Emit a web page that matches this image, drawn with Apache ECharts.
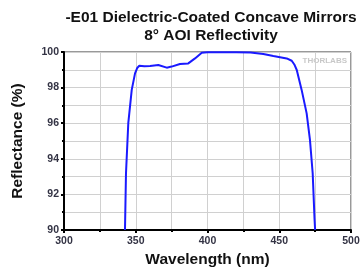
<!DOCTYPE html>
<html><head><meta charset="utf-8">
<script src="https://cdn.jsdelivr.net/npm/echarts@6/dist/echarts.min.js"></script>
<style>html,body{margin:0;padding:0;background:#fff}#c{width:361px;height:270px}</style>
</head><body><div id="c"></div>
<script>
var wavelength = [342.5,343.2,344.8,347.2,349.5,351,352.5,356,360,365.7,371.6,375,380.8,386.6,391.3,396,400,410,420,430,438.9,445.9,455.2,458.7,460.5,462.2,465.6,469.1,471.4,473.3,474.6,475];
var reflectance = [90,93.19,96.0,97.87,98.8,99.1,99.23,99.2,99.21,99.27,99.12,99.18,99.33,99.36,99.64,99.96,99.98,99.99,99.98,99.97,99.89,99.78,99.64,99.51,99.3,98.99,97.87,96.55,95.06,93.19,90.6,90];
var titleLines = ['-E01 Dielectric-Coated Concave Mirrors','8° AOI Reflectivity'];
var xTicks = [300,350,400,450,500];
var yTicks = [90,92,94,96,98,100];

var data = wavelength.map(function(w,i){return [w,reflectance[i]];});
var chart = echarts.init(document.getElementById('c'));
var lbl = {color:'#333344',fontFamily:'Liberation Sans, Arial',fontWeight:'bold',fontSize:10.5};
chart.setOption({
  animation:false,
  title:{text:titleLines.join('\n'),left:206,textAlign:'center',top:4,
    textStyle:{fontFamily:'Liberation Sans, Arial',fontWeight:'bold',fontSize:15.5,lineHeight:18,color:'#111'}},
  grid:{left:64,right:10,top:52,bottom:40,show:true,borderColor:'#333',borderWidth:1,containLabel:false,outerBoundsMode:'none'},
  graphic:[{type:'text',right:14,top:57,style:{text:'THORLABS',fill:'#c8c8c8',font:'bold 8px Liberation Sans'}}],
  xAxis:{type:'value',min:xTicks[0],max:xTicks[xTicks.length-1],interval:50,
    name:'Wavelength (nm)',nameLocation:'middle',nameGap:22,
    nameTextStyle:{fontFamily:'Liberation Sans, Arial',fontWeight:'bold',fontSize:15.5,color:'#111'},
    axisLine:{show:true,lineStyle:{color:'#000',width:2}},
    axisTick:{show:true,length:3,lineStyle:{color:'#000',width:2}},
    minorTick:{show:true,splitNumber:2,length:2,lineStyle:{color:'#000',width:2}},
    splitLine:{show:true,lineStyle:{color:'#d0d0d0',width:1}},
    minorSplitLine:{show:true,lineStyle:{color:'#d0d0d0',width:1}},
    axisLabel:Object.assign({margin:6},lbl)},
  yAxis:{type:'value',min:yTicks[0],max:yTicks[yTicks.length-1],interval:2,
    name:'Reflectance (%)',nameLocation:'middle',nameGap:38,
    nameTextStyle:{fontFamily:'Liberation Sans, Arial',fontWeight:'bold',fontSize:15.5,color:'#111'},
    axisLine:{show:true,lineStyle:{color:'#000',width:2}},
    axisTick:{show:true,length:3,lineStyle:{color:'#000',width:2}},
    minorTick:{show:true,splitNumber:2,length:2,lineStyle:{color:'#000',width:2}},
    splitLine:{show:true,lineStyle:{color:'#d0d0d0',width:1}},
    minorSplitLine:{show:true,lineStyle:{color:'#d0d0d0',width:1}},
    axisLabel:Object.assign({margin:5},lbl)},
  series:[{type:'line',data:data,showSymbol:false,clip:true,
    lineStyle:{color:'#1a1aff',width:2}}]
});
</script></body></html>
